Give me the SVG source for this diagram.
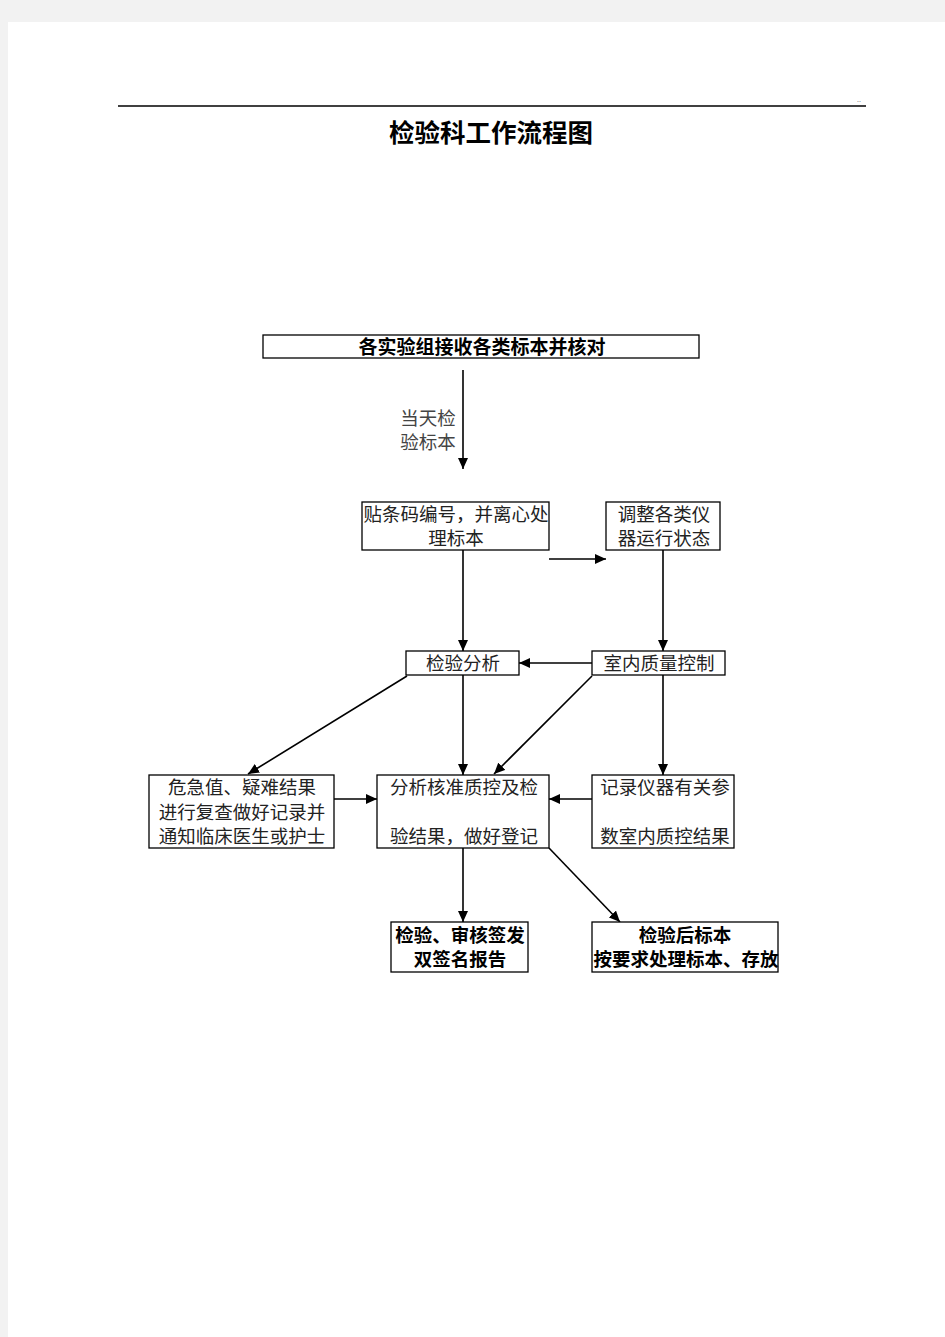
<svg xmlns="http://www.w3.org/2000/svg" width="945" height="1337" viewBox="0 0 945 1337">
<style>
.box{fill:#fff;stroke:#000;stroke-width:1.3}
.t{font-family:"Noto Sans CJK SC","Liberation Serif",serif;font-size:18.5px;fill:#222;text-anchor:middle;dominant-baseline:central}
.b{font-weight:bold;fill:#000}
.c{stroke:#000;stroke-width:1.6;fill:none;marker-end:url(#ah)}
</style>
<defs>
<marker id="ah" markerUnits="userSpaceOnUse" markerWidth="12" markerHeight="10" refX="11" refY="5" orient="auto">
<path d="M0,0 L11,5 L0,10 Z" fill="#000"/>
</marker>
</defs>
<rect x="0" y="0" width="945" height="1337" fill="#f2f2f2"/>
<rect x="8" y="22" width="937" height="1315" fill="#fff"/>
<line x1="118" y1="106" x2="866" y2="106" stroke="#000" stroke-width="1.3"/>
<text x="857" y="102" font-family="Liberation Sans, sans-serif" font-size="7" fill="#444">..</text>
<text x="491" y="130" class="t b" style="font-size:25.5px">检验科工作流程图</text>

<g id="connectors">
<line class="c" x1="463" y1="370" x2="463" y2="469"/>
<line class="c" x1="549" y1="559" x2="606" y2="559"/>
<line class="c" x1="463" y1="550" x2="463" y2="651"/>
<line class="c" x1="663" y1="550" x2="663" y2="651"/>
<line class="c" x1="592" y1="663" x2="519" y2="663"/>
<line class="c" x1="407" y1="676" x2="248" y2="774"/>
<line class="c" x1="463" y1="675" x2="463" y2="775"/>
<line class="c" x1="592" y1="676" x2="494" y2="774"/>
<line class="c" x1="663" y1="675" x2="663" y2="775"/>
<line class="c" x1="334" y1="799" x2="377" y2="799"/>
<line class="c" x1="592" y1="799" x2="549" y2="799"/>
<line class="c" x1="463" y1="848" x2="463" y2="922"/>
<line class="c" x1="549" y1="848" x2="620" y2="922"/>
<text x="428" y="416.5" class="t" style="fill:#444">当天检</text>
<text x="428" y="440.5" class="t" style="fill:#444">验标本</text>
</g>

<g id="n1">
<rect class="box" x="263" y="335" width="436" height="23"/>
<text x="482" y="345.5" class="t b" style="font-size:19px">各实验组接收各类标本并核对</text>
</g>
<g id="n2">
<rect class="box" x="362" y="502" width="187" height="48"/>
<text x="456" y="512.5" class="t">贴条码编号，并离心处</text>
<text x="456" y="536.5" class="t">理标本</text>
</g>
<g id="n3">
<rect class="box" x="606" y="502" width="114" height="48"/>
<text x="664" y="512.5" class="t">调整各类仪</text>
<text x="664" y="536.5" class="t">器运行状态</text>
</g>
<g id="n4">
<rect class="box" x="406" y="651" width="113" height="24"/>
<text x="463" y="661.5" class="t">检验分析</text>
</g>
<g id="n5">
<rect class="box" x="592" y="651" width="133" height="24"/>
<text x="659" y="661.5" class="t">室内质量控制</text>
</g>
<g id="n6">
<rect class="box" x="149" y="775" width="185" height="73"/>
<text x="242" y="785.5" class="t">危急值、疑难结果</text>
<text x="242" y="810.5" class="t">进行复查做好记录并</text>
<text x="242" y="834.5" class="t">通知临床医生或护士</text>
</g>
<g id="n7">
<rect class="box" x="377" y="775" width="172" height="73"/>
<text x="464" y="785.5" class="t">分析核准质控及检</text>
<text x="464" y="834.5" class="t">验结果，做好登记</text>
</g>
<g id="n8">
<rect class="box" x="592" y="775" width="142" height="73"/>
<text x="665" y="785.5" class="t">记录仪器有关参</text>
<text x="665" y="834.5" class="t">数室内质控结果</text>
</g>
<g id="n9">
<rect class="box" x="391" y="922" width="137" height="50"/>
<text x="460" y="933.5" class="t b">检验、审核签发</text>
<text x="460" y="957.5" class="t b">双签名报告</text>
</g>
<g id="n10">
<rect class="box" x="592" y="922" width="186" height="50"/>
<text x="685" y="933.5" class="t b">检验后标本</text>
<text x="686" y="957.5" class="t b">按要求处理标本、存放</text>
</g>
</svg>
